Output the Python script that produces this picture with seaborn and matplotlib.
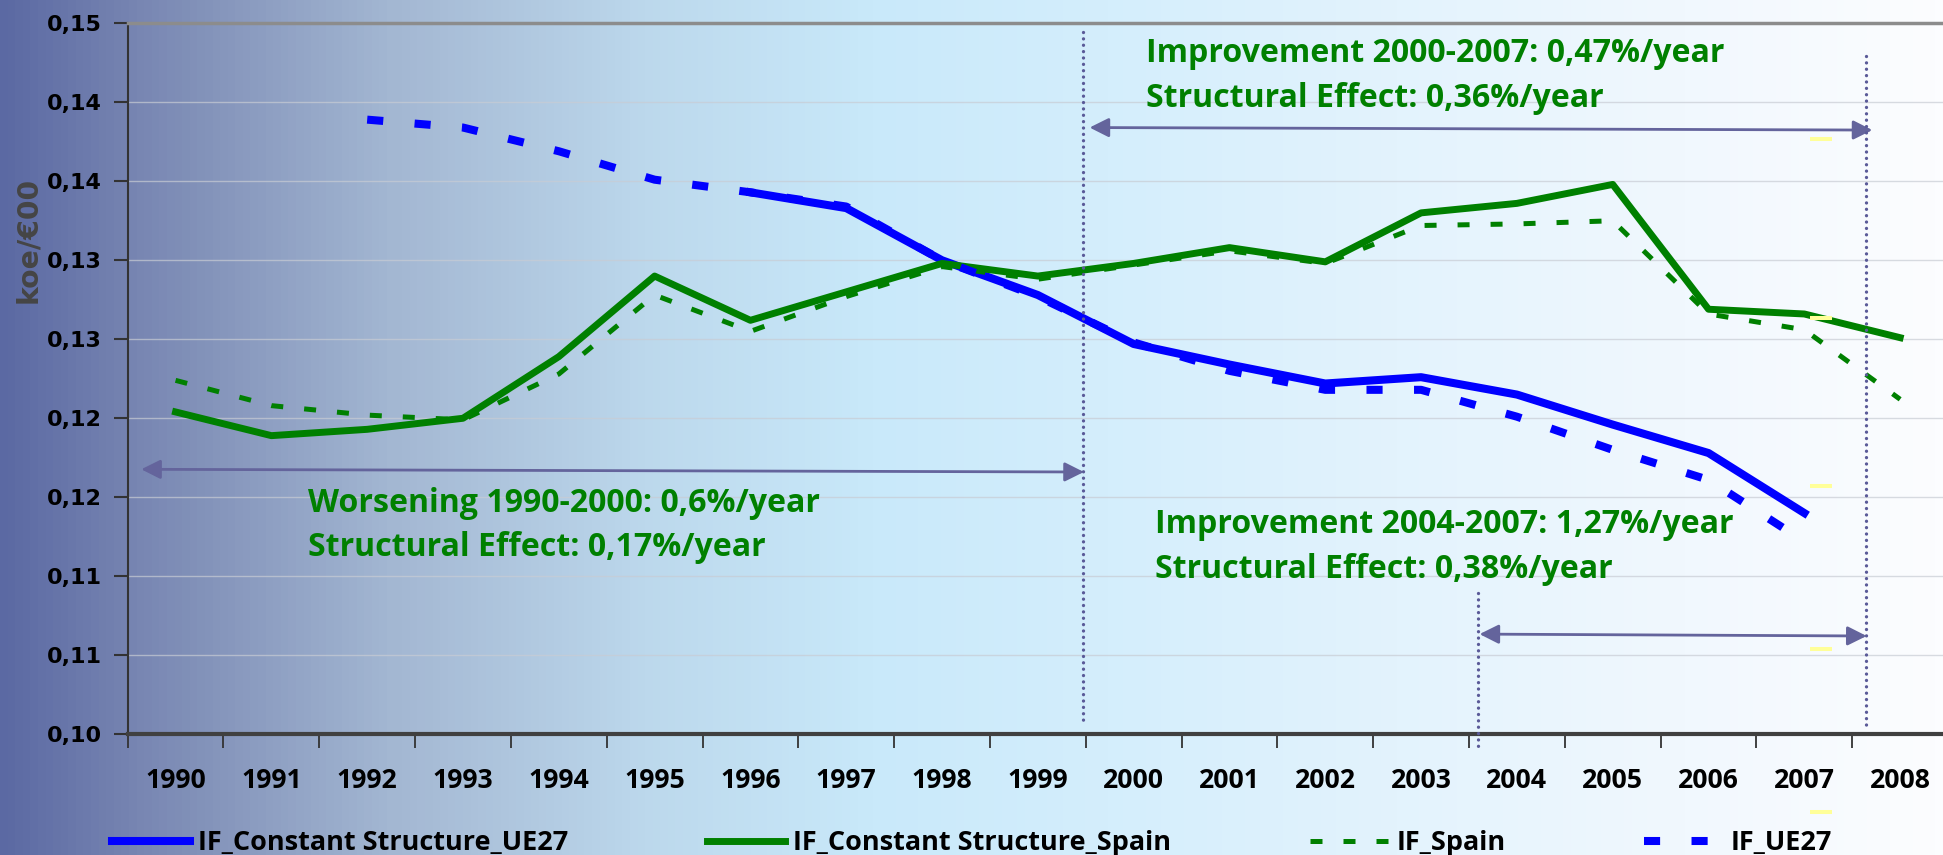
import numpy as np
import pandas as pd
import matplotlib
matplotlib.use("Agg")
import matplotlib.pyplot as plt
from matplotlib.colors import LinearSegmentedColormap
import seaborn as sns

# -------------------------------
# Data
# -------------------------------
years = list(range(1990, 2009))

spain_const = [0.1204, 0.1189, 0.1193, 0.1200, 0.1239, 0.1290, 0.1262, 0.1280, 0.1298, 0.1290,
               0.1298, 0.1308, 0.1299, 0.1330, 0.1336, 0.1348, 0.1269, 0.1266, 0.1251]
spain = [0.1224, 0.1208, 0.1202, 0.1199, 0.1228, 0.1278, 0.1255, 0.1277, 0.1296, 0.1288,
         0.1297, 0.1306, 0.1298, 0.1322, 0.1323, 0.1325, 0.1266, 0.1256, 0.1212]

ue27_const_years = list(range(1996, 2008))
ue27_const = [0.1343, 0.1333, 0.1300, 0.1278, 0.1247, 0.1234, 0.1222, 0.1226, 0.1215, 0.1196,
              0.1178, 0.1140]

ue27_years = list(range(1992, 2008))
ue27 = [0.1389, 0.1384, 0.1369, 0.1351, 0.1343, 0.1334, 0.1300, 0.1277, 0.1248, 0.1230,
        0.1218, 0.1218, 0.1201, 0.1180, 0.1161, 0.1122]

ytick_values = [0.100, 0.105, 0.110, 0.115, 0.120, 0.125, 0.130, 0.135, 0.140, 0.145]
ytick_labels = ["0,10", "0,11", "0,11", "0,12", "0,12", "0,13", "0,13", "0,14", "0,14", "0,15"]

series_names = ["IF_Constant Structure_UE27", "IF_Constant Structure_Spain", "IF_Spain", "IF_UE27"]

# yellow stray marks next to 2007
yellow_marks = [0.1377, 0.12635, 0.11572, 0.10541, 0.0951]

GREEN = "#008000"
BLUE = "#0000ff"
ARROW = "#64649c"
TEXT_FONT = "Open Sans"

# -------------------------------
# Figure + gradient background
# -------------------------------
fig = plt.figure(figsize=(19.43, 8.55), dpi=100)
renderer = fig.canvas.get_renderer()


def fit_size(text, target_px, **font):
    # font size (pt) that makes `text` about target_px wide
    t = fig.text(0, 0, text, fontsize=10, **font)
    w = t.get_window_extent(renderer=renderer).width
    t.remove()
    return 10 * target_px / w


bg = fig.add_axes([0, 0, 1, 1], zorder=0)
stops = [(0.00, "#5b69a3"), (0.07, "#7886b2"), (0.20, "#a3b7d2"), (0.33, "#bcd8ec"),
         (0.45, "#c9e9fa"), (0.57, "#d4eefc"), (0.72, "#e3f3fd"), (0.87, "#f1f8fe"),
         (1.00, "#fcfdff")]
cmap = LinearSegmentedColormap.from_list("bg", stops)
bg.imshow(np.linspace(0, 1, 512)[None, :], aspect="auto", cmap=cmap, extent=[0, 1, 0, 1])
bg.set_axis_off()

ax = fig.add_axes([0.0657, 0.1412, 0.9369, 0.8316], zorder=1)
ax.set_facecolor("none")

# -------------------------------
# Lines
# -------------------------------
def idx(yrs):
    return [y - years[0] for y in yrs]

df_spain = pd.DataFrame({"x": idx(years), "const": spain_const, "raw": spain})
df_ue_c = pd.DataFrame({"x": idx(ue27_const_years), "v": ue27_const})
df_ue = pd.DataFrame({"x": idx(ue27_years), "v": ue27})

sns.lineplot(data=df_ue_c, x="x", y="v", ax=ax, color=BLUE, linewidth=5.8,
             label=series_names[0])
sns.lineplot(data=df_spain, x="x", y="const", ax=ax, color=GREEN, linewidth=5.0,
             label=series_names[1])
sns.lineplot(data=df_spain, x="x", y="raw", ax=ax, color=GREEN, linewidth=3.6,
             linestyle=(0, (2.4, 4.2)), label=series_names[2])
sns.lineplot(data=df_ue, x="x", y="v", ax=ax, color=BLUE, linewidth=5.8,
             linestyle=(0, (2.0, 3.9)), label=series_names[3])

# -------------------------------
# Axes styling
# -------------------------------
ax.set_xlim(-0.5, 18.5)
ax.set_ylim(0.100, 0.145)
ax.set_yticks(ytick_values)
ax.set_yticklabels(ytick_labels)
ax.set_xticks(range(len(years)))
ax.set_xticklabels([str(y) for y in years])
ax.set_xticks(np.arange(-0.5, 19, 1.0), minor=True)
ax.set_xlabel("")
ax.set_ylabel("")

xt_size = fit_size("1990", 61, family=TEXT_FONT, weight="bold")
yt_size = fit_size("0,15", 55, family="DejaVu Sans", weight="bold")

ax.tick_params(axis="x", which="major", length=0, pad=24)
ax.tick_params(axis="x", which="minor", length=10, width=1.3, color="#333333", direction="out")
ax.tick_params(axis="y", length=10, width=1.5, color="#333333", pad=8.6)
for lab in ax.get_xticklabels():
    lab.set_fontfamily(TEXT_FONT)
    lab.set_fontweight("bold")
    lab.set_fontsize(xt_size)
for lab in ax.get_yticklabels():
    lab.set_fontfamily("DejaVu Sans")
    lab.set_fontweight("bold")
    lab.set_fontsize(yt_size)

ax.grid(axis="y", color="#c8ccd4", alpha=0.7, linewidth=1)
ax.grid(axis="x", visible=False)
ax.set_axisbelow(True)
ax.spines["right"].set_visible(False)
ax.spines["top"].set_color("#8c8c8c")
ax.spines["top"].set_linewidth(2.5)
ax.spines["left"].set_color("#333333")
ax.spines["left"].set_linewidth(1.5)
ax.spines["bottom"].set_color("#404040")
ax.spines["bottom"].set_linewidth(3)

yl_size = fit_size("koe/€00", 126, family="DejaVu Sans", weight="bold")
fig.text(28 / 1943, 1 - 240 / 855, "koe/€00", rotation=90, ha="center", va="center",
         fontsize=yl_size, fontweight="bold", color="#454545", family="DejaVu Sans")

# -------------------------------
# Period markers, arrows and notes
# -------------------------------
dot_kw = dict(color="#5a5a98", linewidth=2.4, linestyle=(0, (0.01, 1.9)),
              dash_capstyle="round", clip_on=False, zorder=5)
ax.plot([9.47, 9.47], [0.14445, 0.10091], **dot_kw)
ax.plot([13.59, 13.59], [0.10894, 0.09913], **dot_kw)
ax.plot([17.64, 17.64], [0.14293, 0.10059], **dot_kw)

arrow_kw = dict(arrowstyle="<|-|>,head_length=0.4,head_width=0.2", color=ARROW,
                lw=2.0, mutation_scale=29, shrinkA=0, shrinkB=0)
ax.annotate("", xy=(9.48, 0.1166), xytext=(-0.358, 0.11677), arrowprops=arrow_kw,
            annotation_clip=False)
ax.annotate("", xy=(17.71, 0.13824), xytext=(9.54, 0.1384), arrowprops=arrow_kw,
            annotation_clip=False)
ax.annotate("", xy=(17.65, 0.10622), xytext=(13.61, 0.10634), arrowprops=arrow_kw,
            annotation_clip=False)

note_size = fit_size("Structural Effect: 0,36%/year", 460, family=TEXT_FONT, weight="bold")
note_kw = dict(color=GREEN, fontsize=note_size, fontweight="bold", family=TEXT_FONT,
               ha="left", va="baseline", zorder=6)
ax.text(10.125, 0.14255, "Improvement 2000-2007: 0,47%/year", **note_kw)
ax.text(10.125, 0.13970, "Structural Effect: 0,36%/year", **note_kw)
ax.text(1.378, 0.11407, "Worsening 1990-2000: 0,6%/year", **note_kw)
ax.text(1.378, 0.11128, "Structural Effect: 0,17%/year", **note_kw)
ax.text(10.22, 0.11274, "Improvement 2004-2007: 1,27%/year", **note_kw)
ax.text(10.22, 0.10989, "Structural Effect: 0,38%/year", **note_kw)

ax.plot([17.17] * len(yellow_marks), yellow_marks, linestyle="none", marker="_",
        markersize=16.5, markeredgewidth=2.9, color="#ffff99", clip_on=False, zorder=4)

# -------------------------------
# Legend along the bottom edge
# -------------------------------
leg_size = fit_size(series_names[0], 370, family=TEXT_FONT, weight="bold")
leg_px = leg_size * 100 / 72
handles, labels = ax.get_legend_handles_labels()
ax.get_legend().remove()
fig.legend(handles, labels, loc="center left", bbox_to_anchor=(112 / 1943, 12 / 855),
           ncol=4, frameon=False, borderpad=0, borderaxespad=0,
           handlelength=78 / leg_px, handletextpad=8 / leg_px, columnspacing=139 / leg_px,
           prop=dict(family=TEXT_FONT, weight="bold", size=leg_size))

fig.savefig("out.png", dpi=100)
